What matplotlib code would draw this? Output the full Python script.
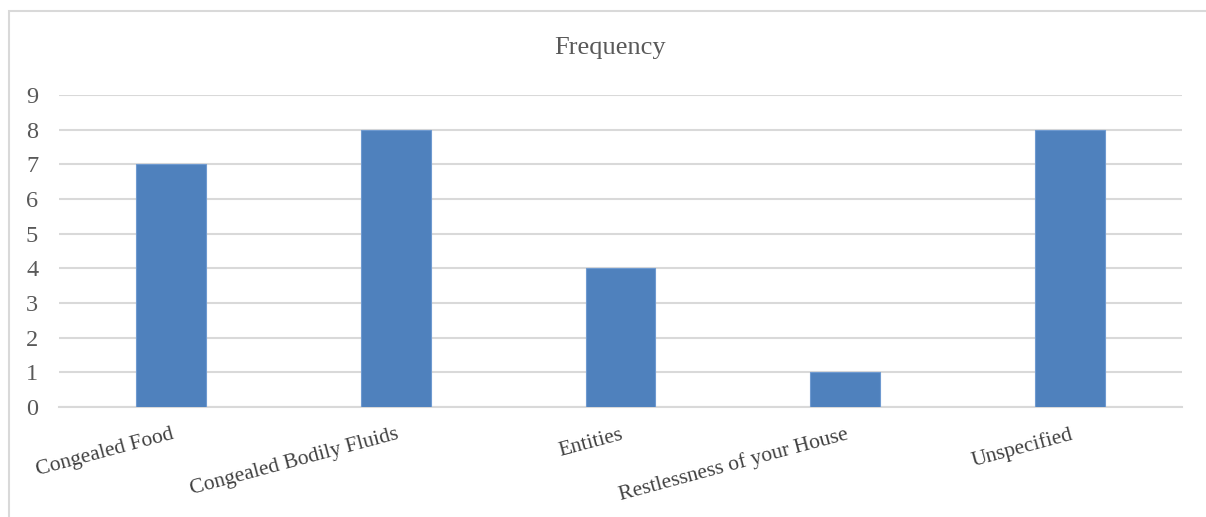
import matplotlib
matplotlib.use("Agg")
import matplotlib.pyplot as plt
from matplotlib.patches import Rectangle

categories = ["Congealed Food", "Congealed Bodily Fluids", "Entities",
              "Restlessness of your House", "Unspecified"]
frequency = [7, 8, 4, 1, 8]
y_ticks = list(range(0, 10))

plt.rcParams["font.family"] = ["Liberation Serif", "DejaVu Serif"]

fig = plt.figure(figsize=(12.06, 5.17), dpi=100)
fig.patch.set_facecolor("white")

# chart frame (runs off the right and bottom edges)
fig.add_artist(Rectangle((9 / 1206, -0.05), 1.2, 1 - 11 / 517 + 0.05,
                         transform=fig.transFigure, fill=False,
                         edgecolor="#D9D9D9", linewidth=1.5))

ax = fig.add_axes([59 / 1206, 1 - 407 / 517, (1182 - 59) / 1206, (407 - 95) / 517])
x = list(range(len(categories)))
ax.bar(x, frequency, width=0.31, color="#4F81BD", edgecolor="#6F9AD0",
       linewidth=0.8, zorder=3)

ax.set_xlim(-0.5, len(categories) - 0.5)
ax.set_ylim(0, 9)
ax.set_yticks(y_ticks)
ax.set_yticklabels([str(v) for v in y_ticks], color="#595959", fontsize=17.5)
ax.yaxis.grid(True, color="#D9D9D9", linewidth=1.5, zorder=0)
ax.tick_params(axis="y", length=0, pad=15)
ax.tick_params(axis="x", length=0, pad=13)
for side in ["top", "right", "left"]:
    ax.spines[side].set_visible(False)
ax.spines["bottom"].set_color("#D9D9D9")
ax.spines["bottom"].set_linewidth(1.5)

ax.set_xticks(x)
ax.set_xticklabels(categories, rotation=15, ha="right", va="top",
                   rotation_mode="anchor", color="#404040", fontsize=15.5)

fig.text(610 / 1206, 1 - 48 / 517, "Frequency", ha="center", va="center",
         fontsize=19, color="#595959")

fig.savefig("out.png", dpi=100, facecolor="white")
